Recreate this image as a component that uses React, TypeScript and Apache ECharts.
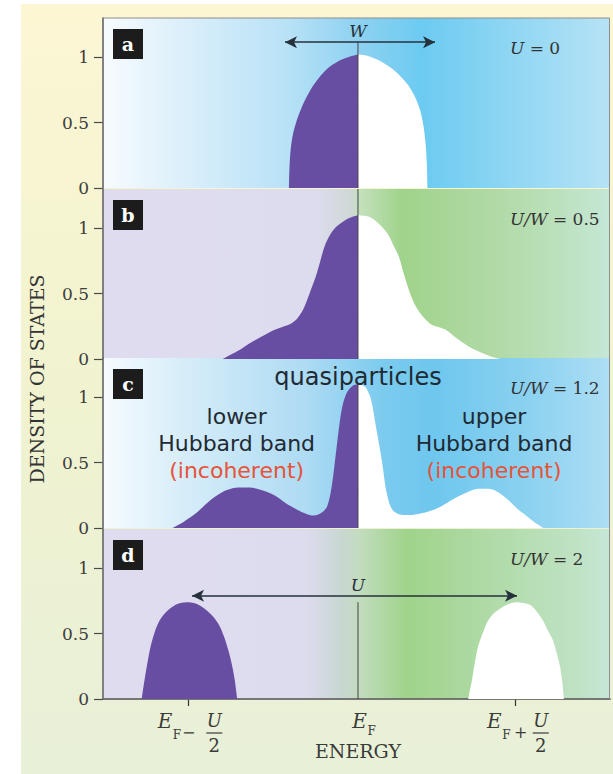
import React, { useEffect, useRef } from "react";
import * as echarts from "echarts";

// ---- data -------------------------------------------------------------
// Energy measured from the Fermi level (E_F = 0).
const energyMin = -1.555;
const energyMax = 1.537;
const energyTickValues = [-1.035, 0.962]; // E_F - U/2, E_F + U/2
const dosTickValues = [0, 0.5, 1];
const dosMax = 1.3;

const panelLetters = ["a", "b", "c", "d"];
const panelRatios = ["0", "0.5", "1.2", "2"];

// Occupied (below E_F) and empty (above E_F) density of states per panel.
const occupiedA = [
  [-0.421, 0], [-0.418, 0.15], [-0.41, 0.3], [-0.395, 0.42], [-0.37, 0.53],
  [-0.335, 0.64], [-0.29, 0.75], [-0.24, 0.84], [-0.18, 0.92], [-0.12, 0.97],
  [-0.06, 1.0], [0, 1.02],
];
const emptyA = [
  [0, 1.02], [0.06, 1.01], [0.12, 0.98], [0.17, 0.945], [0.22, 0.9],
  [0.27, 0.84], [0.31, 0.78], [0.35, 0.69], [0.38, 0.59], [0.4, 0.47],
  [0.413, 0.33], [0.42, 0.18], [0.424, 0],
];
const occupiedB = [
  [-0.824, 0], [-0.78, 0.03], [-0.72, 0.07], [-0.66, 0.12], [-0.59, 0.17],
  [-0.515, 0.22], [-0.45, 0.25], [-0.41, 0.27], [-0.37, 0.31], [-0.33, 0.39],
  [-0.29, 0.52], [-0.25, 0.66], [-0.204, 0.86], [-0.17, 0.95], [-0.134, 1.01],
  [-0.06, 1.075], [0, 1.1],
];
const emptyB = [
  [0, 1.1], [0.04, 1.095], [0.08, 1.08], [0.13, 1.03], [0.18, 0.96],
  [0.22, 0.86], [0.25, 0.78], [0.28, 0.65], [0.31, 0.53], [0.345, 0.42],
  [0.38, 0.35], [0.44, 0.27], [0.5, 0.24], [0.54, 0.22], [0.6, 0.16],
  [0.67, 0.1], [0.75, 0.05], [0.81, 0.02], [0.87, 0],
];
const occupiedC = [
  [-1.13, 0], [-1.06, 0.05], [-0.99, 0.11], [-0.93, 0.18], [-0.87, 0.24],
  [-0.8, 0.29], [-0.73, 0.31], [-0.66, 0.31], [-0.59, 0.29], [-0.51, 0.25],
  [-0.44, 0.19], [-0.37, 0.14], [-0.31, 0.105], [-0.27, 0.095], [-0.23, 0.11],
  [-0.19, 0.16], [-0.16, 0.32], [-0.13, 0.62], [-0.1, 0.9], [-0.07, 1.03],
  [-0.03, 1.09], [0, 1.1],
];
const emptyC = [
  [0, 1.1], [0.03, 1.09], [0.05, 1.07], [0.08, 0.98], [0.11, 0.77],
  [0.145, 0.52], [0.175, 0.27], [0.21, 0.14], [0.27, 0.1], [0.33, 0.1],
  [0.38, 0.11], [0.44, 0.13], [0.5, 0.16], [0.58, 0.22], [0.66, 0.27],
  [0.73, 0.3], [0.8, 0.3], [0.86, 0.27], [0.92, 0.21], [0.97, 0.15],
  [1.01, 0.11], [1.07, 0.05], [1.13, 0],
];
const occupiedD = [
  [-1.319, 0], [-1.305, 0.12], [-1.285, 0.27], [-1.265, 0.4], [-1.24, 0.51],
  [-1.21, 0.6], [-1.167, 0.67], [-1.106, 0.725], [-1.045, 0.74], [-0.99, 0.73],
  [-0.935, 0.69], [-0.884, 0.63], [-0.845, 0.56], [-0.815, 0.47], [-0.79, 0.37],
  [-0.77, 0.27], [-0.752, 0.15], [-0.736, 0],
];
const emptyD = [
  [0.673, 0], [0.683, 0.07], [0.693, 0.13], [0.71, 0.26], [0.732, 0.4],
  [0.76, 0.5], [0.785, 0.58], [0.82, 0.645], [0.866, 0.69], [0.915, 0.725],
  [0.967, 0.74], [1.01, 0.735], [1.049, 0.72], [1.09, 0.67], [1.128, 0.6],
  [1.16, 0.52], [1.189, 0.45], [1.21, 0.36], [1.232, 0.25], [1.245, 0.14],
  [1.256, 0],
];
const occupied = [occupiedA, occupiedB, occupiedC, occupiedD];
const empty = [emptyA, emptyB, emptyC, emptyD];

// Height of the Fermi-level marker in each panel.
const fermiLineTop = [1.115, 1.3, 1.1, 0.74];

// Width arrows: [panel, from, to, level, label]
const widthArrows: [number, number, number, number, string][] = [
  [0, -0.445, 0.47, 1.115, "W"],
  [3, -1.012, 0.97, 0.79, "U"],
];

// Band annotations of panel c: [text, energy, dos, kind]
const bandNotes: [string, number, number, string][] = [
  ["quasiparticles", 0, 1.153, "big"],
  ["lower", -0.74, 0.855, "dark"],
  ["Hubbard band", -0.74, 0.65, "dark"],
  ["(incoherent)", -0.74, 0.443, "red"],
  ["upper", 0.83, 0.855, "dark"],
  ["Hubbard band", 0.83, 0.65, "dark"],
  ["(incoherent)", 0.83, 0.443, "red"],
];

// ---- styling ----------------------------------------------------------
const PURPLE = "#684ea2";
const SERIF = '"DejaVu Serif", serif';
const SANS = '"DejaVu Sans", sans-serif';
const GRID_LEFT = 103;
const GRID_RIGHT = 3;
const GRID_TOPS = [18, 189, 358, 529];
const GRID_H = 170;

const stops = (list: [number, string][]) =>
  list.map(([offset, color]) => ({ offset, color }));

const panelBackgrounds = [
  stops([
    [0, "#f7fbfe"], [0.16, "#dbeffa"], [0.36, "#b9e2f7"], [0.5, "#8fd2f1"],
    [0.63, "#6ccbf1"], [0.83, "#94d8f3"], [1, "#b7e2f5"],
  ]),
  stops([
    [0, "#dfdcef"], [0.42, "#dddcee"], [0.49, "#ced8d6"], [0.505, "#c4e1bd"],
    [0.59, "#a0d38b"], [0.76, "#b0d9a4"], [0.89, "#bbe0bb"], [1, "#c5e7d6"],
  ]),
  stops([
    [0, "#f6fbfe"], [0.16, "#d6edf9"], [0.4, "#aedbf3"], [0.55, "#7ccbef"],
    [0.65, "#6ec7ee"], [0.82, "#88d0f0"], [1, "#addef4"],
  ]),
  stops([
    [0, "#dfdcef"], [0.4, "#dddcee"], [0.47, "#c8d7d2"], [0.505, "#c3dcbf"],
    [0.6, "#9fd48a"], [0.69, "#a9d79b"], [0.93, "#bfe2c3"], [1, "#c6e7d7"],
  ]),
];

function buildOption() {
  const grid = GRID_TOPS.map((top, i) => ({
    left: GRID_LEFT,
    right: GRID_RIGHT,
    top,
    height: GRID_H,
    show: true,
    borderWidth: 0,
    backgroundColor: {
      type: "linear", x: 0, y: 0, x2: 1, y2: 0,
      colorStops: panelBackgrounds[i],
    },
  }));

  const xAxis = GRID_TOPS.map((_, i) => ({
    type: "value",
    gridIndex: i,
    min: energyMin,
    max: energyMax,
    splitLine: { show: false },
    axisLabel: { show: false },
    axisLine: {
      show: i === 3,
      onZero: false,
      lineStyle: { color: "#333", width: 1.5 },
    },
    axisTick: {
      show: i === 3,
      customValues: energyTickValues,
      length: 7,
      lineStyle: { color: "#333", width: 1.2 },
    },
  }));

  const yAxis = GRID_TOPS.map((_, i) => ({
    type: "value",
    gridIndex: i,
    min: 0,
    max: dosMax,
    interval: 0.5,
    splitLine: { show: false },
    axisLine: {
      show: true,
      onZero: false,
      lineStyle: { color: "#4a4a4a", width: 1.5 },
    },
    axisTick: {
      show: true,
      length: 9,
      customValues: dosTickValues,
      lineStyle: { color: "#4a4a4a", width: 1.2 },
    },
    axisLabel: {
      customValues: dosTickValues,
      margin: 14,
      fontFamily: SERIF,
      fontSize: 17,
      color: "#3d3d3d",
      formatter: (v: number) => (dosTickValues.includes(v) ? String(v) : ""),
    },
  }));

  const series: any[] = [];
  GRID_TOPS.forEach((_, i) => {
    series.push({
      type: "line",
      xAxisIndex: i,
      yAxisIndex: i,
      data: occupied[i],
      smooth: 0.3,
      symbol: "none",
      silent: true,
      lineStyle: { width: 0 },
      areaStyle: { color: PURPLE, opacity: 1 },
      z: 2,
    });
    series.push({
      type: "line",
      xAxisIndex: i,
      yAxisIndex: i,
      data: empty[i],
      smooth: 0.3,
      symbol: "none",
      silent: true,
      lineStyle: { width: 0 },
      areaStyle: { color: "#ffffff", opacity: 1 },
      z: 2,
    });
    const arrow = widthArrows.find((a) => a[0] === i);
    series.push({
      type: "line",
      xAxisIndex: i,
      yAxisIndex: i,
      data: [[0, 0], [0, fermiLineTop[i]]],
      symbol: "none",
      silent: true,
      lineStyle: { color: "#444", width: 1 },
      z: 3,
      markLine: arrow
        ? {
            silent: true,
            symbol: ["arrow", "arrow"],
            symbolSize: [9, 12],
            label: { show: false },
            lineStyle: { color: "#26313b", width: 1.5, type: "solid" },
            data: [[{ coord: [arrow[1], arrow[3]] }, { coord: [arrow[2], arrow[3]] }]],
          }
        : undefined,
    });
  });

  return {
    animation: false,
    backgroundColor: "#ffffff",
    grid,
    xAxis,
    yAxis,
    series,
  };
}

function text(x: number, y: number, str: string, font: string, fill: string, align = "center", extra: any = {}) {
  return {
    type: "text",
    x,
    y,
    silent: true,
    z: 20,
    ...extra,
    style: {
      text: str,
      font,
      fill,
      align,
      textAlign: align,
      verticalAlign: "middle",
      textVerticalAlign: "middle",
      ...(extra.style || {}),
    },
  };
}

function buildGraphics(chart: echarts.ECharts) {
  const toPx = (i: number, x: number, y: number) =>
    chart.convertToPixel({ gridIndex: i } as any, [x, y]) as number[];
  const els: any[] = [];

  // page backdrop
  els.push({
    type: "rect",
    z: -100,
    silent: true,
    shape: { x: 21, y: 4, width: 592, height: 770 },
    style: {
      fill: new echarts.graphic.LinearGradient(0, 0, 0, 1, [
        { offset: 0, color: "#fcf6d3" },
        { offset: 0.5, color: "#f1f3d0" },
        { offset: 1, color: "#e8f0d8" },
      ]),
    },
  });

  // frame around the stacked panels
  const tl = toPx(0, energyMin, dosMax);
  const br = toPx(3, energyMax, 0);
  els.push({
    type: "rect",
    z: 1,
    silent: true,
    shape: { x: tl[0], y: tl[1], width: br[0] - tl[0] - 0.5, height: br[1] - tl[1] },
    style: { fill: "none", stroke: "#8e8e8e", lineWidth: 1 },
  });

  // panel letters and interaction strength
  GRID_TOPS.forEach((top, i) => {
    els.push({
      type: "rect",
      z: 20,
      silent: true,
      shape: { x: 113, y: top + 11, width: 30, height: 30 },
      style: { fill: "#1c1c1c" },
    });
    els.push(text(128, top + 26, panelLetters[i], `bold 19px ${SERIF}`, "#ffffff"));
    const label = i === 0 ? `{i|U} = ${panelRatios[i]}` : `{i|U/W} = ${panelRatios[i]}`;
    els.push(
      text(510, top + 30, label, `17px ${SERIF}`, "#333333", "left", {
        style: {
          rich: { i: { fontStyle: "italic", fontFamily: SERIF, fontSize: 17, fill: "#333333" } },
        },
      })
    );
  });

  // arrow labels
  widthArrows.forEach(([i, from, to, level, label]) => {
    const p = toPx(i, (from + to) / 2, level);
    els.push(text(toPx(i, 0, 0)[0], p[1] - 11, label, `italic 17px ${SERIF}`, "#26313b"));
  });

  // band annotations
  bandNotes.forEach(([str, x, y, kind]) => {
    const p = toPx(2, x, y);
    const size = kind === "big" ? 24 : 22;
    const fill = kind === "red" ? "#e6533a" : "#1f2a33";
    els.push(text(p[0], p[1], str, `${size}px ${SANS}`, fill));
  });

  // y-axis title
  els.push(
    text(37, 379, "DENSITY OF STATES", `19px ${SERIF}`, "#333333", "center", {
      rotation: Math.PI / 2,
    })
  );

  // energy labels
  const axisY = toPx(3, 0, 0)[1];
  const ink = "#3a3a3a";
  const fermiLabel = (cx: number, subDy: number) => {
    els.push(text(cx, axisY + 22, "E", `italic 20px ${SERIF}`, ink, "right"));
    els.push(text(cx + 0.5, axisY + subDy, "F", `12px ${SERIF}`, ink, "left"));
  };
  const fraction = (cx: number) => {
    els.push(text(cx, axisY + 21, "U", `italic 18px ${SERIF}`, ink));
    els.push({
      type: "line",
      z: 20,
      silent: true,
      shape: { x1: cx - 8, y1: axisY + 34, x2: cx + 8, y2: axisY + 34 },
      style: { stroke: ink, lineWidth: 1.2 },
    });
    els.push(text(cx, axisY + 46, "2", `18px ${SERIF}`, ink));
  };
  const left = toPx(3, energyTickValues[0], 0)[0];
  fermiLabel(left - 16, 36);
  els.push(text(left + 0.5, axisY + 33, "\u2212", `16px ${SERIF}`, ink));
  fraction(left + 26);

  const right = toPx(3, energyTickValues[1], 0)[0];
  fermiLabel(right - 14, 36);
  els.push(text(right + 5, axisY + 33, "+", `16px ${SERIF}`, ink));
  fraction(right + 25);

  const mid = toPx(3, 0, 0)[0];
  fermiLabel(mid + 9, 32);
  els.push(text(mid, axisY + 52, "ENERGY", `19px ${SERIF}`, ink));

  return els;
}

export default function App() {
  const ref = useRef<HTMLDivElement>(null);
  useEffect(() => {
    const el = ref.current;
    if (!el) return;
    const chart = echarts.init(el, null, { renderer: "svg" });
    chart.setOption(buildOption() as any);
    chart.setOption({ graphic: buildGraphics(chart) } as any);
    return () => chart.dispose();
  }, []);
  return (
    <div
      ref={ref}
      style={{ position: "fixed", left: 0, top: 0, width: 613, height: 774 }}
    />
  );
}
